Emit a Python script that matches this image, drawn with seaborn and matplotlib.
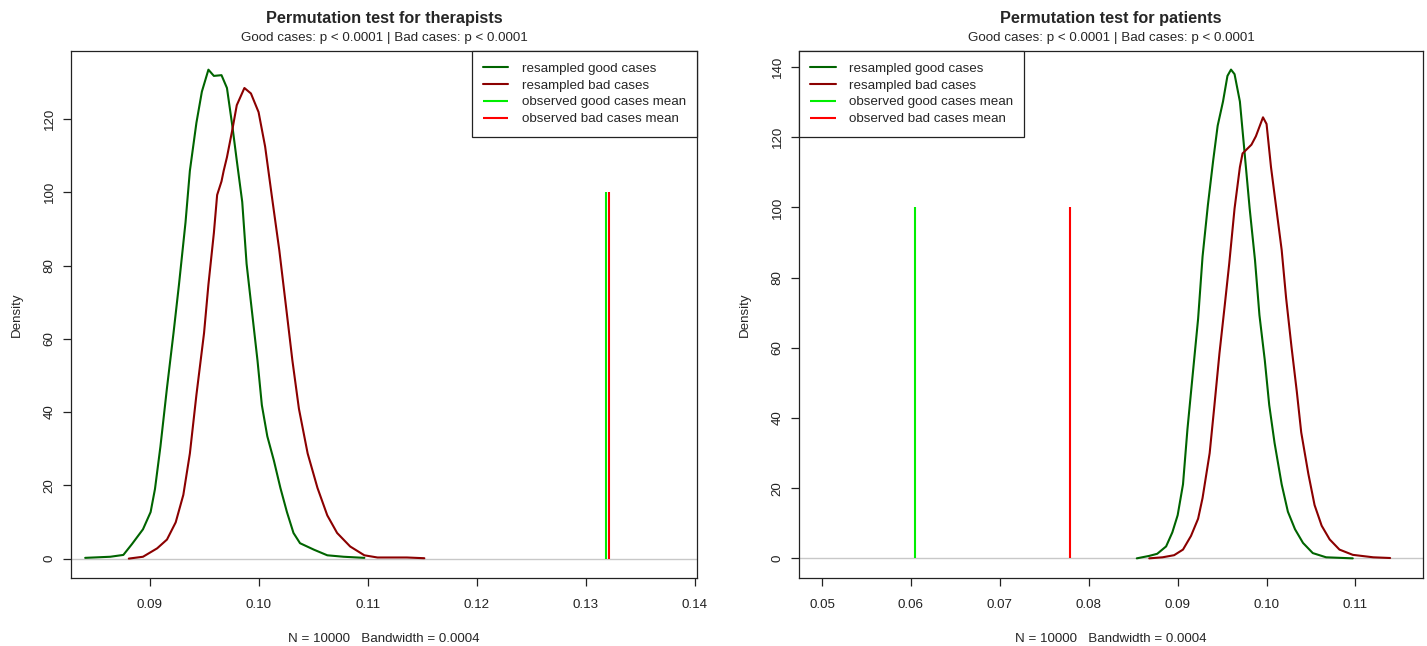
import numpy as np
import pandas as pd
import matplotlib
matplotlib.use("Agg")
import matplotlib.pyplot as plt
from matplotlib.ticker import FormatStrFormatter
import seaborn as sns

# ---------------- data ----------------
# Therapists panel
ther_good_x = [0.0841, 0.0864, 0.0876, 0.0884, 0.0894, 0.0901, 0.0905, 0.0910, 0.0916, 0.0922,
               0.0927, 0.0933, 0.0937, 0.0943, 0.0948, 0.0954, 0.0959, 0.0966, 0.0971, 0.0976,
               0.0980, 0.0985, 0.0989, 0.0994, 0.0999, 0.1003, 0.1008, 0.1014, 0.1020, 0.1026,
               0.1032, 0.1038, 0.1051, 0.1063, 0.1078, 0.1097]
ther_good_y = [0.2, 0.5, 1.0, 4.0, 8.0, 12.7, 19.0, 30.6, 46.6, 61.6,
               74.8, 91.8, 105.9, 119.0, 127.5, 133.5, 131.8, 132.0, 128.5, 118.0,
               108.7, 97.4, 80.5, 67.3, 54.1, 41.9, 33.4, 26.8, 19.3, 12.7,
               7.0, 4.2, 2.4, 0.9, 0.5, 0.2]
ther_bad_x = [0.0881, 0.0894, 0.0907, 0.0916, 0.0924, 0.0931, 0.0937, 0.0943, 0.0950, 0.0954,
              0.0959, 0.0962, 0.0966, 0.0968, 0.0971, 0.0976, 0.0980, 0.0987, 0.0993, 0.1000,
              0.1006, 0.1012, 0.1019, 0.1025, 0.1031, 0.1037, 0.1045, 0.1054, 0.1063, 0.1072,
              0.1084, 0.1097, 0.1109, 0.1136, 0.1152]
ther_bad_y = [0.0, 0.5, 2.8, 5.2, 9.9, 17.4, 28.7, 44.7, 61.6, 74.8,
              88.9, 99.3, 103.0, 105.9, 109.6, 117.2, 123.8, 128.5, 127.0, 121.9,
              112.5, 99.3, 84.2, 69.2, 54.1, 40.9, 28.7, 19.3, 11.8, 7.0,
              3.3, 0.9, 0.3, 0.3, 0.1]
ther_obs_good = 0.1319
ther_obs_bad = 0.1321

# Patients panel
pat_good_x = [0.0854, 0.0868, 0.0877, 0.0887, 0.0894, 0.0900, 0.0906, 0.0911, 0.0917, 0.0923,
              0.0928, 0.0934, 0.0940, 0.0945, 0.0951, 0.0956, 0.0960, 0.0964, 0.0970, 0.0975,
              0.0981, 0.0987, 0.0992, 0.0998, 0.1003, 0.1009, 0.1017, 0.1024, 0.1032, 0.1041,
              0.1052, 0.1067, 0.1097]
pat_good_y = [0.0, 0.7, 1.3, 3.4, 7.4, 12.3, 21.1, 36.8, 52.6, 68.3,
              86.0, 100.7, 113.5, 123.3, 130.2, 137.5, 139.3, 138.0, 130.2, 116.4,
              99.7, 85.0, 69.3, 56.5, 43.7, 32.9, 21.1, 13.3, 8.3, 4.4,
              1.5, 0.3, 0.0]
pat_bad_x = [0.0868, 0.0883, 0.0896, 0.0906, 0.0915, 0.0923, 0.0928, 0.0936, 0.0941, 0.0947,
             0.0953, 0.0958, 0.0964, 0.0970, 0.0973, 0.0977, 0.0983, 0.0988, 0.0996, 0.1000,
             0.1005, 0.1011, 0.1017, 0.1022, 0.1028, 0.1034, 0.1039, 0.1047, 0.1054, 0.1062,
             0.1071, 0.1082, 0.1097, 0.1120, 0.1139]
pat_bad_y = [0.0, 0.3, 0.9, 2.5, 6.4, 11.3, 17.2, 30.0, 42.7, 58.4,
             72.2, 84.0, 99.7, 111.5, 115.4, 116.4, 117.9, 120.3, 125.7, 123.8,
             111.5, 99.7, 87.9, 74.2, 60.4, 47.6, 35.9, 24.1, 15.2, 9.3,
             5.4, 2.5, 1.0, 0.3, 0.1]
pat_obs_good = 0.0604
pat_obs_bad = 0.0779

obs_height = 100

titles = ["Permutation test for therapists", "Permutation test for patients"]
subtitle = "Good cases: p < 0.0001 | Bad cases: p < 0.0001"
xlabel = "N = 10000   Bandwidth = 0.0004"
legend_labels = ["resampled good cases", "resampled bad cases",
                 "observed good cases mean", "observed bad cases mean"]
ther_xticks = [0.09, 0.10, 0.11, 0.12, 0.13, 0.14]
pat_xticks = [0.05, 0.06, 0.07, 0.08, 0.09, 0.10, 0.11]
ther_yticks = [0, 20, 40, 60, 80, 100, 120]
pat_yticks = [0, 20, 40, 60, 80, 100, 120, 140]

# ---------------- style ----------------
sns.set_theme(style="ticks")
plt.rcParams['font.family'] = ['Liberation Sans', 'DejaVu Sans']
plt.rcParams['axes.edgecolor'] = '#222222'
plt.rcParams['axes.linewidth'] = 0.9
plt.rcParams['xtick.color'] = '#222222'
plt.rcParams['ytick.color'] = '#222222'

C_GOOD = '#006400'
C_BAD = '#8B0000'
C_OBS_GOOD = '#00EE00'
C_OBS_BAD = '#FF0000'
LW = 1.5
FS = 9.6

W, H = 1427, 646
fig = plt.figure(figsize=(W / 100, H / 100), dpi=100)
box_top, box_bot = 51, 578
axL = fig.add_axes([71 / W, 1 - box_bot / H, (697 - 71) / W, (box_bot - box_top) / H])
axR = fig.add_axes([799 / W, 1 - box_bot / H, (1423 - 799) / W, (box_bot - box_top) / H])

panels = [
    (axL, ther_good_x, ther_good_y, ther_bad_x, ther_bad_y, ther_obs_good, ther_obs_bad,
     ther_xticks, ther_yticks, (0.0828, 0.1402), (-5.3, 138.6), "upper right", titles[0]),
    (axR, pat_good_x, pat_good_y, pat_bad_x, pat_bad_y, pat_obs_good, pat_obs_bad,
     pat_xticks, pat_yticks, (0.0474, 0.1176), (-5.6, 144.6), "upper left", titles[1]),
]

for (ax, gx, gy, bx, by, og, ob, xt, yt, xl, yl, loc, title) in panels:
    ax.axhline(0, color='#C8C8C8', lw=1.0, zorder=1)
    dg = pd.DataFrame({"x": gx, "y": gy})
    db = pd.DataFrame({"x": bx, "y": by})
    sns.lineplot(data=dg, x="x", y="y", ax=ax, color=C_GOOD, lw=LW, sort=False,
                 estimator=None, label=legend_labels[0], zorder=3)
    sns.lineplot(data=db, x="x", y="y", ax=ax, color=C_BAD, lw=LW, sort=False,
                 estimator=None, label=legend_labels[1], zorder=3)
    ax.vlines([og], 0, obs_height, color=C_OBS_GOOD, lw=LW, label=legend_labels[2], zorder=4)
    ax.vlines([ob], 0, obs_height, color=C_OBS_BAD, lw=LW, label=legend_labels[3], zorder=3)

    ax.set_xlim(*xl)
    ax.set_ylim(*yl)
    ax.set_xticks(xt)
    ax.set_yticks(yt)
    ax.xaxis.set_major_formatter(FormatStrFormatter('%.2f'))
    ax.tick_params(axis='both', length=6, width=0.9, labelsize=FS, direction='out')
    ax.tick_params(axis='x', pad=9)
    ax.tick_params(axis='y', pad=5)
    for lab in ax.get_yticklabels():
        lab.set_rotation(90)
        lab.set_va('center')
    for s in ax.spines.values():
        s.set_visible(True)
        s.set_color('#222222')
    ax.set_xlabel(xlabel, fontsize=FS, labelpad=16)
    ax.set_ylabel("Density", fontsize=FS, labelpad=15)

    ax.text(0.5, 1 + 13 / 527, subtitle, transform=ax.transAxes, ha='center',
            va='center', fontsize=FS)
    ax.text(0.5, 1 + 33 / 527, title, transform=ax.transAxes, ha='center',
            va='center', fontsize=11.7, fontweight='bold')

    leg = ax.legend(loc=loc, borderaxespad=0, frameon=True, fancybox=False,
                    fontsize=FS, handlelength=1.9, handletextpad=1.0,
                    labelspacing=0.34, borderpad=0.85)
    leg.get_frame().set_edgecolor('#222222')
    leg.get_frame().set_linewidth(0.9)
    leg.get_frame().set_alpha(1)

fig.savefig("out.png", dpi=100, facecolor='white')
